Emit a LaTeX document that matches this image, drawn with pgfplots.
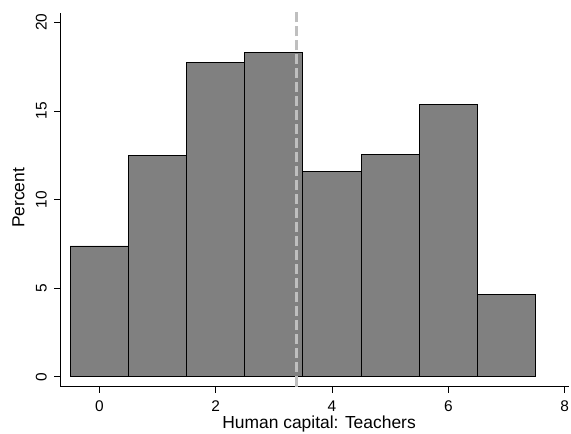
\documentclass[border=0pt]{standalone}
\usepackage{fontspec}
\setmainfont{Liberation Sans}
\usepackage{pgfplots}
\pgfplotsset{compat=1.18}
\begin{document}
\begin{tikzpicture}
\path[use as bounding box] (0,0) rectangle (571bp,434bp);
\begin{axis}[
  at={(60.5bp,47.5bp)}, anchor=south west,
  x=58.17bp, y=17.72bp,
  xmin=-0.667, xmax=8.07, ymin=-0.55, ymax=20.54,
  axis x line=bottom, axis y line=left,
  axis line style={-, line width=1.1bp, black},
  xtick={0,2,4,6,8}, ytick={0,5,10,15,20},
  tick align=outside, major tick length=6bp,
  tick style={line width=0.9bp, black},
  /pgf/number format/assume math mode=true,
  ticklabel style={font=\fontsize{15.5}{17}\selectfont},
  xticklabel style={anchor=base},
  xticklabel shift=18.5bp,
  yticklabel style={rotate=90, anchor=base},
  yticklabel shift=7.8bp,
  label style={font=\fontsize{17.5}{19}\selectfont},
  xlabel={Human capital: Teachers},
  xlabel style={at={(rel axis cs:0.5087,-0.1111)}, anchor=base},
  ylabel={Percent},
  ylabel style={at={(rel axis cs:-0.0713,0.5047)}, anchor=base, rotate=0},
  clip=false,
]
\addplot[ybar interval, fill=black!50, draw=black, line width=0.9bp] coordinates {
  (-0.5,7.38) (0.5,12.47) (1.5,17.72) (2.5,18.31) (3.5,11.6) (4.5,12.57) (5.5,15.37) (6.5,4.62) (7.5,0)
};
\addplot[black!25, line width=3bp, dash pattern=on 10bp off 4bp] coordinates {(3.39,-0.55) (3.39,20.6)};
\end{axis}
\end{tikzpicture}
\end{document}
